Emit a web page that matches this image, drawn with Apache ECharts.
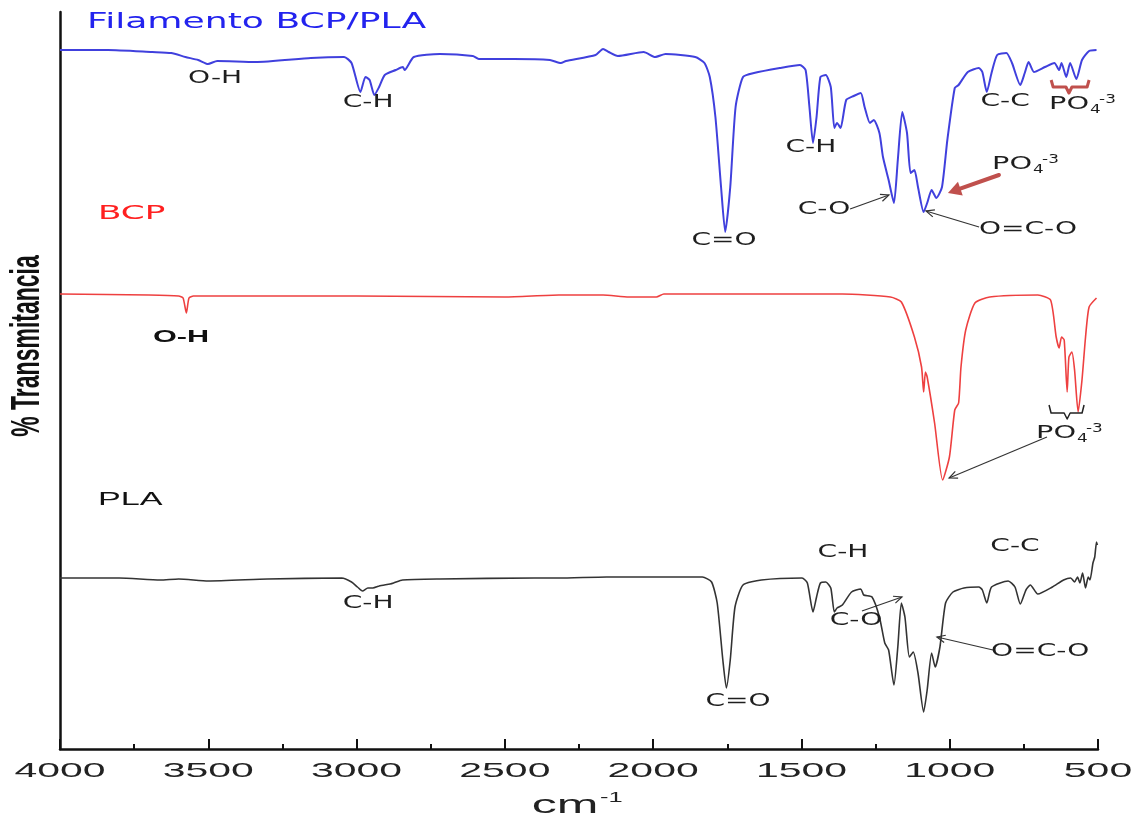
<!DOCTYPE html>
<html>
<head>
<meta charset="utf-8">
<title>FTIR - Filamento BCP/PLA, BCP, PLA</title>
<script src="https://cdn.jsdelivr.net/npm/echarts@6.0.0/dist/echarts.min.js"></script>
<style>
  html, body { margin: 0; padding: 0; background: #fff; }
  #chart { width: 1136px; height: 829px; }
</style>
</head>
<body>
<div id="chart"></div>
<script>
// espectros FTIR desplazados en vertical, [numero de onda cm-1, %T (unidades arbitrarias)]
const TICKS = [4000, 3500, 3000, 2500, 2000, 1500, 1000, 500]

const filamento = [
  [4000, 699], [3838, 699], [3689, 697], [3625, 696], [3577, 692], [3534, 689], [3501, 685],
  [3470, 688], [3341, 687], [3154, 691], [3042, 692], [3017, 686], [2987, 657], [2970, 672],
  [2956, 669], [2940, 654], [2924, 662], [2905, 674], [2868, 679], [2844, 682], [2838, 679],
  [2807, 692], [2719, 695], [2608, 693], [2588, 690], [2470, 690], [2348, 689], [2311, 686],
  [2294, 688], [2194, 694], [2169, 700], [2150, 697], [2119, 693], [2032, 697], [1993, 692],
  [1958, 695], [1858, 692], [1827, 686], [1809, 672], [1790, 632], [1771, 562], [1757, 517],
  [1740, 562], [1722, 642], [1697, 672], [1660, 676], [1573, 681], [1505, 684], [1486, 679],
  [1473, 642], [1461, 606], [1449, 632], [1436, 672], [1418, 674], [1401, 662], [1389, 621],
  [1380, 626], [1368, 621], [1349, 649], [1324, 653], [1300, 656], [1287, 642], [1269, 626],
  [1256, 629], [1237, 616], [1225, 592], [1206, 569], [1188, 546], [1175, 589], [1160, 637],
  [1144, 616], [1132, 576], [1119, 579], [1107, 562], [1088, 537], [1076, 546], [1061, 559],
  [1045, 551], [1026, 562], [1008, 609], [983, 661], [970, 664], [939, 677], [902, 681],
  [890, 677], [875, 657], [859, 676], [840, 694], [809, 696], [790, 686], [762, 664],
  [747, 676], [734, 687], [716, 677], [679, 682], [647, 686], [631, 679], [623, 686],
  [607, 672], [594, 686], [573, 670], [554, 689], [530, 698], [505, 699]
]

const bcp = [
  [4000, 455], [3700, 454], [3600, 453], [3585, 451], [3574, 436], [3565, 451], [3550, 453],
  [3000, 453], [2500, 452], [2318, 454], [2169, 454], [2082, 452], [1989, 452], [1964, 455],
  [1573, 455], [1362, 455], [1200, 452], [1163, 447], [1119, 412], [1095, 382], [1088, 357],
  [1082, 377], [1076, 372], [1051, 326], [1024, 269], [1001, 292], [983, 339], [970, 346],
  [962, 382], [946, 419], [915, 446], [865, 452], [703, 454], [660, 449], [641, 412],
  [631, 401], [623, 412], [614, 409], [604, 357], [598, 392], [588, 397], [579, 379],
  [567, 337], [554, 369], [542, 412], [530, 442], [505, 451]
]

const pla = [
  [4000, 171], [3800, 171], [3662, 169], [3600, 170], [3500, 168], [3300, 170], [3050, 171],
  [3017, 167], [2997, 162], [2980, 158], [2962, 161], [2945, 161], [2924, 163], [2887, 165],
  [2875, 166], [2845, 169], [2719, 170], [2400, 171], [2318, 171], [2157, 172], [1945, 172],
  [1834, 172], [1803, 167], [1784, 146], [1765, 89], [1753, 61], [1740, 89], [1724, 142],
  [1697, 164], [1635, 169], [1498, 171], [1480, 166], [1461, 137], [1449, 152], [1436, 166],
  [1418, 167], [1401, 161], [1389, 137], [1380, 141], [1362, 144], [1331, 157], [1300, 160],
  [1290, 154], [1262, 152], [1237, 132], [1219, 106], [1206, 99], [1188, 64], [1175, 102],
  [1163, 146], [1151, 132], [1136, 92], [1123, 97], [1107, 76], [1088, 37], [1076, 59],
  [1061, 96], [1049, 82], [1033, 102], [1014, 146], [989, 157], [952, 161], [902, 162],
  [890, 159], [875, 146], [859, 162], [803, 168], [780, 162], [762, 145], [743, 159],
  [728, 164], [703, 155], [654, 162], [616, 169], [592, 171], [579, 167], [569, 172],
  [561, 166], [552, 176], [542, 161], [533, 172], [527, 169], [517, 186], [511, 192],
  [505, 207], [502, 204]
]

// etiquetas de bandas: texto y posicion [cm-1, %T]
const bandas = [
  { t: 'O-H', at: [3477, 670] }, { t: 'C-H', at: [2961, 646] }, { t: 'C=O', at: [1761, 508] },
  { t: 'C-H', at: [1468, 601] }, { t: 'C-O', at: [1424, 539] }, { t: 'O=C-O', at: [736, 519] },
  { t: 'C-C', at: [813, 647] },
  { t: 'C-H', at: [2961, 145] }, { t: 'C=O', at: [1714, 47] }, { t: 'C-H', at: [1360, 196] },
  { t: 'C-C', at: [780, 202] }, { t: 'C-O', at: [1316, 128] }, { t: 'O=C-O', at: [695, 97] }
]
const fosfatos = [[857, 585], [665, 645], [709, 316]]
const flechas = [
  [[1336, 540], [1205, 554]], [[901, 522], [1080, 538]], [[672, 312], [1002, 271]],
  [[1296, 138], [1161, 152]], [[854, 99], [1043, 112]]
]
const flechaRoja = [[834, 574], [1006, 556]]
// llaves: izquierda, centro, derecha (cm-1) y alturas borde / barra / punta
const llaves = [
  { x: [658, 598, 530], v: [669, 662, 656], color: '#c0504d', w: 3 },
  { x: [665, 604, 547], v: [344, 336, 330], color: '#222', w: 1.5 }
]

const chart = echarts.init(document.getElementById('chart'))

const linea = (name, data, color, width) => ({
  name, type: 'line', data, showSymbol: false, smooth: 0.2,
  lineStyle: { color, width }, z: 3
})

chart.setOption({
  animation: false,
  grid: { left: 60, right: 38, top: 12, bottom: 80 },
  xAxis: {
    type: 'value', min: 500, max: 4000, interval: 500, inverse: true,
    axisLine: { show: true, onZero: false, lineStyle: { color: '#111', width: 2.5 } },
    axisTick: { show: true, inside: true, length: 10, lineStyle: { color: '#111', width: 2 } },
    minorTick: { show: true, splitNumber: 2, length: 5, lineStyle: { color: '#111', width: 2 } },
    axisLabel: { show: false },
    splitLine: { show: false }
  },
  yAxis: {
    type: 'value', min: 0, max: 737,
    axisLine: { show: true, onZero: false, lineStyle: { color: '#111', width: 2.5 } },
    axisTick: { show: false }, axisLabel: { show: false }, splitLine: { show: false }
  },
  series: [
    linea('Filamento BCP/PLA', filamento, '#4040dd', 2),
    linea('BCP', bcp, '#ee4040', 1.6),
    linea('PLA', pla, '#333333', 1.6)
  ]
})

const P = (p) => chart.convertToPixel({ gridIndex: 0 }, p)

// texto estirado en horizontal como en la figura original
const txt = (text, pos, font, fill, sx, align) => ({
  type: 'text', x: pos[0], y: pos[1], scaleX: sx, z: 10,
  style: {
    text, font, fill,
    textAlign: align || 'center', align: align || 'center',
    textVerticalAlign: 'middle', verticalAlign: 'middle'
  }
})

const ANOT = '17px "DejaVu Sans"'
const els = []

TICKS.forEach(t => {
  const p = P([t, 0])
  els.push(txt(String(t), [p[0], p[1] + 22], '21px "Liberation Sans"', '#222', 1.95))
})
els.push(txt('cm', [565, 806], '25px "Liberation Sans"', '#222', 2.0))
els.push(txt('-1', [600, 798], '15px "Liberation Sans"', '#222', 1.7, 'left'))
els.push({
  type: 'text', x: 28, y: 346, rotation: Math.PI / 2, scaleY: 1.75, z: 10,
  style: {
    text: '% Transmitancia', font: 'bold 23px "Liberation Sans"', fill: '#111',
    textAlign: 'center', align: 'center', textVerticalAlign: 'middle', verticalAlign: 'middle'
  }
})

els.push(txt('Filamento BCP/PLA', P([3909, 726]), '21px "DejaVu Sans"', '#2323ee', 1.72, 'left'))
els.push(txt('BCP', P([3872, 535]), '19px "DejaVu Sans"', '#ff2020', 1.8, 'left'))
els.push(txt('PLA', P([3872, 249]), '19px "Liberation Sans"', '#111', 1.8, 'left'))
els.push(txt('O-H', P([3592, 412]), 'bold 17px "Liberation Sans"', '#111', 1.8))

bandas.forEach(b => els.push(txt(b.t, P(b.at), ANOT, '#1e1e1e', 1.65)))

fosfatos.forEach(f => {
  const p = P(f)
  els.push(txt('PO', p, '18px "DejaVu Sans"', '#1e1e1e', 1.6, 'left'))
  els.push(txt('4', [p[0] + 41, p[1] + 6], '12px "DejaVu Sans"', '#1e1e1e', 1.4, 'left'))
  els.push(txt('-3', [p[0] + 50, p[1] - 4], '12px "DejaVu Sans"', '#1e1e1e', 1.4, 'left'))
})

const punta = (a, b, L, s) => {
  const ang = Math.atan2(b[1] - a[1], b[0] - a[0])
  return [
    [b[0] - L * Math.cos(ang - s), b[1] - L * Math.sin(ang - s)],
    b,
    [b[0] - L * Math.cos(ang + s), b[1] - L * Math.sin(ang + s)]
  ]
}

flechas.forEach(f => {
  const a = P(f[0]), b = P(f[1])
  els.push({ type: 'line', z: 9, shape: { x1: a[0], y1: a[1], x2: b[0], y2: b[1] },
    style: { stroke: '#333', lineWidth: 1.2 } })
  els.push({ type: 'polyline', z: 9, shape: { points: punta(a, b, 9, 0.42) },
    style: { stroke: '#333', lineWidth: 1.2, fill: null } })
})

{
  const a = P(flechaRoja[0]), b = P(flechaRoja[1])
  const head = punta(a, b, 15, 0.5)
  const ang = Math.atan2(b[1] - a[1], b[0] - a[0])
  els.push({ type: 'line', z: 9,
    shape: { x1: a[0], y1: a[1], x2: b[0] - 10 * Math.cos(ang), y2: b[1] - 10 * Math.sin(ang) },
    style: { stroke: '#c0504d', lineWidth: 4, lineCap: 'round' } })
  els.push({ type: 'polygon', z: 9, shape: { points: head }, style: { fill: '#c0504d' } })
}

llaves.forEach(l => {
  const L = P([l.x[0], l.v[0]]), C = P([l.x[1], l.v[2]]), R = P([l.x[2], l.v[0]])
  const bar = P([l.x[1], l.v[1]])[1]
  els.push({
    type: 'polyline', z: 9,
    shape: { points: [L, [L[0] + 2, bar], [C[0] - 3, bar], C, [C[0] + 3, bar], [R[0] - 2, bar], R] },
    style: { stroke: l.color, lineWidth: l.w, fill: null, lineJoin: 'round' }
  })
})

chart.setOption({ graphic: { elements: els } })
</script>
</body>
</html>
